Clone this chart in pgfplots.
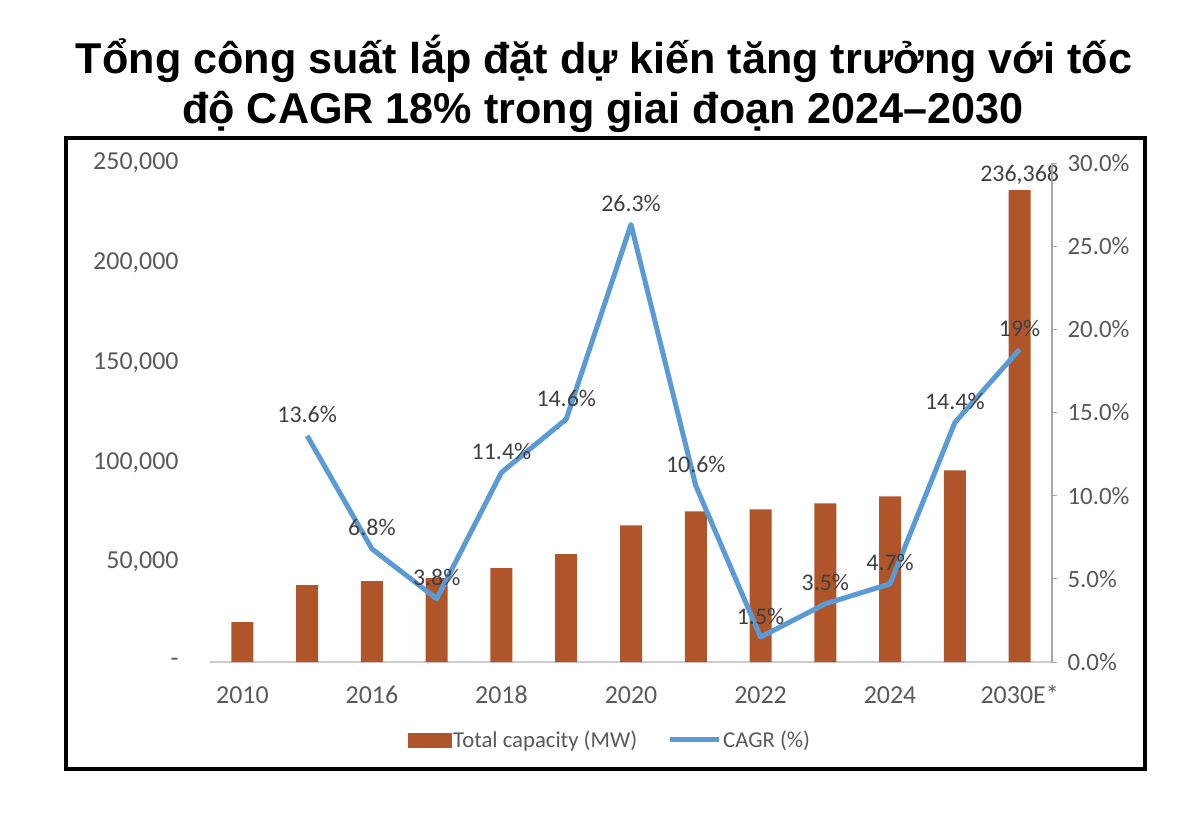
\documentclass[border=0pt]{standalone}
\usepackage{pgfplots}
\pgfplotsset{compat=1.18}
\usepackage{fontspec}
\setmainfont{Liberation Sans}
\newfontfamily\calfont{Carlito}
\definecolor{barc}{HTML}{B0552A}
\definecolor{linec}{HTML}{5B9BD5}
\definecolor{tickc}{HTML}{595959}
\definecolor{labc}{HTML}{404040}
\begin{document}
\begin{tikzpicture}[x=1bp,y=1bp]
\useasboundingbox (0,0) rectangle (1200,-824);
\node[anchor=base,font=\fontsize{43.3}{50}\selectfont\bfseries] at (604,-73) {Tổng công suất lắp đặt dự kiến tăng trưởng với tốc};
\node[anchor=base,font=\fontsize{43.3}{50}\selectfont\bfseries] at (603,-123) {độ CAGR 18\% trong giai đoạn 2024–2030};
\draw[line width=3.5bp] (66,-138) rectangle (1145,-769);
\begin{axis}[
  at={(210bp,-662bp)}, anchor=south west,
  scale only axis, width=842bp, height=499bp,
  xmin=-0.5, xmax=12.5, ymin=0, ymax=250000,
  scaled y ticks=false,
  axis x line*=bottom, axis y line*=left,
  x axis line style={draw=gray!40, line width=1.2bp, -},
  y axis line style={draw=none},
  xtick={0,2,4,6,8,10,12},
  xticklabels={2010,2016,2018,2020,2022,2024,2030E*},
  ytick={0,50000,100000,150000,200000,250000},
  yticklabels={-,{50,000},{100,000},{150,000},{200,000},{250,000}},
  major tick length=0pt,
  tick label style={font=\calfont\fontsize{26}{30}\selectfont, text=tickc},
  yticklabel style={xshift=-28bp},
  xticklabel style={anchor=base, yshift=-41bp, text height=12bp, text depth=0bp},
  clip=false,
]
\addplot[ybar, bar width=22bp, fill=barc, draw=none] coordinates {
(0,20000) (1,38500) (2,40500) (3,42000) (4,47000) (5,54000) (6,68500)
(7,75500) (8,76500) (9,79500) (10,83000) (11,96000) (12,236368)};
\node[font=\calfont\fontsize{24}{28}\selectfont, text=labc, anchor=south] at (axis cs:12,236368) [yshift=2bp] {236,368};
\end{axis}
\begin{axis}[
  at={(210bp,-662bp)}, anchor=south west,
  scale only axis, width=842bp, height=499bp,
  xmin=-0.5, xmax=12.5, ymin=0, ymax=30,
  axis x line=none, axis y line*=right,
  y axis line style={draw=gray!70, line width=1.2bp, -},
  ytick={0,5,...,30},
  yticklabels={0.0\%,5.0\%,10.0\%,15.0\%,20.0\%,25.0\%,30.0\%},
  tick style={draw=gray!70, line width=1bp},
  major tick length=5bp, tick align=outside,
  tick label style={font=\calfont\fontsize{25}{30}\selectfont, text=tickc},
  yticklabel style={xshift=7bp},
  clip=false,
  legend style={at={(0.475,-0.156)}, anchor=center, draw=none, fill=none,
    legend columns=2, font=\calfont\fontsize{22.8}{27}\selectfont, text=tickc,
    /tikz/every even column/.append style={column sep=28bp},
    /tikz/every odd column/.append style={column sep=0bp},
    nodes={inner xsep=2bp}},
  legend cell align=left,
]
\addlegendimage{legend image code/.code={\fill[barc] (0bp,-7bp) rectangle (43bp,7bp);}}
\addlegendentry{Total capacity (MW)}
\addlegendimage{legend image code/.code={\draw[linec, line width=5bp] (0bp,0bp) -- (49bp,0bp);}}
\addlegendentry{CAGR (\%)}
\addplot[linec, line width=5bp, line join=round, forget plot,
  nodes near coords, point meta=explicit symbolic,
  every node near coord/.style={font=\calfont\fontsize{24}{28}\selectfont, text=labc, anchor=south, yshift=7bp}]
 coordinates {
(1,13.6) [13.6\%] (2,6.8) [6.8\%] (3,3.8) [3.8\%] (4,11.4) [11.4\%]
(5,14.6) [14.6\%] (6,26.3) [26.3\%] (7,10.6) [10.6\%] (8,1.5) [1.5\%]
(9,3.5) [3.5\%] (10,4.7) [4.7\%] (11,14.4) [14.4\%] (12,18.8) [19\%]};
\end{axis}
\end{tikzpicture}
\end{document}
